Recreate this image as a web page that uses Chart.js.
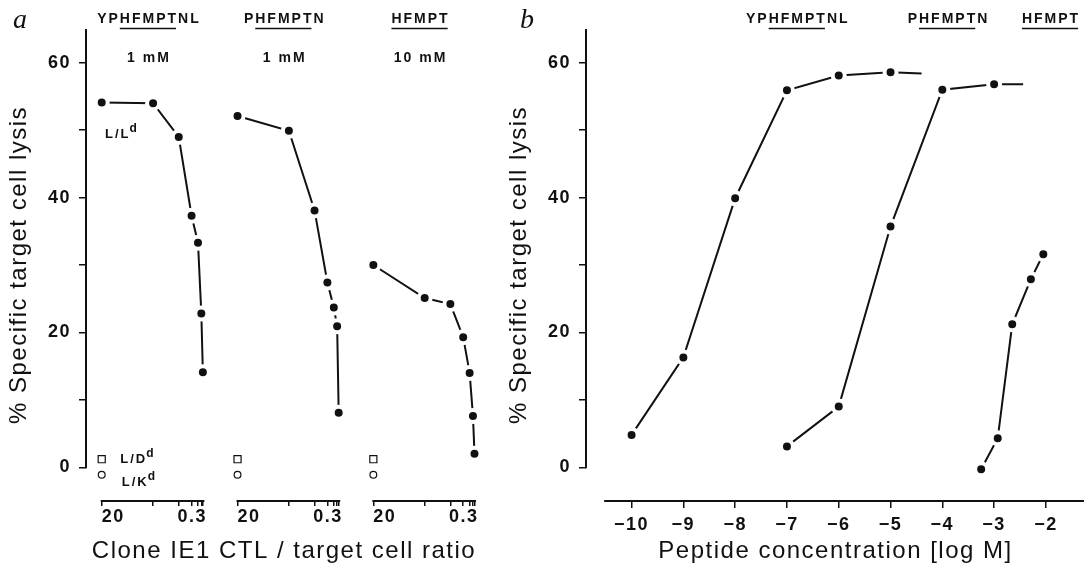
<!DOCTYPE html>
<html>
<head>
<meta charset="utf-8">
<script src="https://cdn.jsdelivr.net/npm/chart.js@4.4.1/dist/chart.umd.min.js"></script>
<style>
  html, body { margin: 0; padding: 0; background: #fff; }
  #wrap { position: relative; width: 1087px; height: 568px; overflow: hidden; }
  canvas { position: absolute; top: 0; }
  #panelA { left: 0; }
  #panelB { left: 500px; }
</style>
</head>
<body>
<div id="wrap">
  <canvas id="panelA" width="500" height="568"></canvas>
  <canvas id="panelB" width="587" height="568"></canvas>
</div>
<script>
// panel a: lysis against CTL / target ratio, one block per peptide
const ratios = [20, 10, 5, 2.5, 1.25, 0.6, 0.3]
const peptides = ['YPHFMPTNL', 'PHFMPTN', 'HFMPT']
const concentrations = ['1 mM', '1 mM', '10 mM']
const lysisYPHFMPTNL = [54.1, 54.0, 49.0, 37.3, 33.3, 22.8, 14.1]
const lysisPHFMPTN = [52.1, 49.9, 38.1, 27.4, 23.7, 20.9, 8.1]
const lysisHFMPT = [30.0, 25.1, 24.2, 19.3, 14.0, 7.6, 2.0]
const lysisLDd = [1.2, 1.2, 1.2] // open squares at ratio 20
const lysisLKd = [-1.1, -1.1, -1.1] // open circles at ratio 20

// panel b: lysis against peptide concentration (last x of the first two is the line end, no marker)
const logConcYPHFMPTNL = [-10, -9, -8, -7, -6, -5, -4.4]
const lysisConcYPHFMPTNL = [4.8, 16.3, 39.9, 55.9, 58.1, 58.6, 58.4]
const logConcPHFMPTN = [-7, -6, -5, -4, -3, -2.44]
const lysisConcPHFMPTN = [3.1, 9.0, 35.7, 56.0, 56.8, 56.8]
const logConcHFMPT = [-3.25, -2.93, -2.65, -2.29, -2.05]
const lysisConcHFMPT = [-0.3, 4.3, 21.2, 27.9, 31.6]

const logTicks = [-10, -9, -8, -7, -6, -5, -4, -3, -2]
const lysisTicks = [0, 10, 20, 30, 40, 50, 60]

const ink = '#111'
const family = "'Liberation Sans', Arial, Helvetica, sans-serif"
Chart.defaults.font.family = family
Chart.defaults.color = ink

// each peptide block of panel a sits on its own stretch of the x scale
const GROUP_SPAN = 26.45
const slot = (g, r) => g * GROUP_SPAN + (20 - r)

function drawText(ctx, text, x, y, font, align, spacing) {
  ctx.font = font
  ctx.letterSpacing = spacing + 'px'
  ctx.textBaseline = 'middle'
  ctx.textAlign = 'left'
  const w = ctx.measureText(text).width - spacing
  const left = align === 'center' ? x - w / 2 : align === 'right' ? x - w : x
  ctx.fillText(text, left, y)
  return { left, width: w }
}

function makeDecor(cfg) {
  return {
    id: 'decor',
    beforeDraw(chart) {
      chart.ctx.letterSpacing = '1.5px'
    },
    afterDraw(chart) {
      const ctx = chart.ctx
      const xs = chart.scales.x
      const ys = chart.scales.y
      const px = (v) => xs.getPixelForValue(v)
      const py = (v) => ys.getPixelForValue(v)
      ctx.save()
      ctx.strokeStyle = ink
      ctx.fillStyle = ink

      // detached axis lines
      ctx.lineWidth = 2
      ctx.beginPath()
      ctx.moveTo(ys.right, py(cfg.yFrame[0]) + 1)
      ctx.lineTo(ys.right, py(cfg.yFrame[1]))
      cfg.xFrames.forEach(([a, b]) => {
        ctx.moveTo(px(a) - 1, xs.top)
        ctx.lineTo(px(b), xs.top)
      })
      ctx.stroke()

      // end labels of the ratio axes
      if (cfg.endLabels) {
        cfg.endLabels.forEach((g) => {
          const f = 'bold 18px ' + family
          drawText(ctx, String(ratios[0]), px(slot(g, ratios[0])), 517, f, 'left', 1.5)
          drawText(ctx, String(ratios[ratios.length - 1]), px(slot(g, 0)) + 1, 517, f, 'right', 1.5)
        })
      }

      // peptide names, HFMPT core underlined
      cfg.headings.forEach((h) => {
        const f = 'bold 14px ' + family
        const cx = px(h.x)
        const t = drawText(ctx, h.text, cx, 19, f, 'center', 2)
        const i = h.text.indexOf('HFMPT')
        const u0 = t.left + (i > 0 ? ctx.measureText(h.text.slice(0, i)).width : 0)
        const u1 = t.left + ctx.measureText(h.text.slice(0, i + 5)).width - 2
        ctx.lineWidth = 1.5
        ctx.beginPath()
        ctx.moveTo(u0, 28.5)
        ctx.lineTo(u1, 28.5)
        ctx.stroke()
        if (h.conc) drawText(ctx, h.conc, cx, 58, 'bold 14px ' + family, 'center', 2)
      })

      // cell labels with superscript
      ;(cfg.notes || []).forEach((n) => {
        const t = drawText(ctx, n.main, px(n.x), py(n.y), 'bold 13px ' + family, 'left', 2)
        drawText(ctx, n.sup, t.left + t.width + 1, py(n.y) - 6, 'bold 12px ' + family, 'left', 0)
      })

      // panel letter
      ctx.letterSpacing = '0px'
      ctx.font = "italic 28px 'Liberation Serif', 'Times New Roman', serif"
      ctx.textBaseline = 'alphabetic'
      ctx.textAlign = 'left'
      ctx.fillText(cfg.letter, cfg.letterX, 28)
      ctx.restore()
    },
  }
}

function curve(label, xs, ys, hasTail) {
  const last = xs.length - 1
  return {
    label,
    showLine: true,
    data: xs.map((x, i) => ({ x, y: ys[i] })),
    borderColor: ink,
    borderWidth: 2,
    tension: 0,
    fill: false,
    clip: false,
    pointRadius: (c) => (hasTail && c.dataIndex === last ? 0 : 6),
    pointBackgroundColor: ink,
    pointBorderColor: '#fff',
    pointBorderWidth: 4,
  }
}

function controls(label, style, radius, ys) {
  return {
    label,
    showLine: false,
    data: ys.map((y, g) => ({ x: slot(g, ratios[0]), y })),
    pointStyle: style,
    pointRadius: radius,
    pointBackgroundColor: '#fff',
    pointBorderColor: ink,
    pointBorderWidth: 1.2,
    clip: false,
  }
}

function yScale() {
  return {
    type: 'linear',
    min: -5,
    max: 65,
    afterBuildTicks: (s) => { s.ticks = lysisTicks.map((v) => ({ value: v })) },
    afterFit: (s) => { s.width = 86 },
    grid: { drawOnChartArea: false, drawTicks: true, tickLength: 7, color: ink, lineWidth: 1.5 },
    border: { display: false },
    ticks: {
      padding: 8,
      color: ink,
      font: { size: 18, weight: 'bold' },
      callback: (v) => (v % 20 === 0 ? String(v) : ''),
    },
    title: {
      display: true,
      text: '% Specific target cell lysis',
      color: ink,
      font: { size: 24 },
      padding: { top: 5, bottom: 0 },
    },
  }
}

const common = {
  responsive: false,
  animation: false,
  devicePixelRatio: 1,
  events: [],
  plugins: { legend: { display: false }, tooltip: { enabled: false } },
}

// panel a
const blocks = [lysisYPHFMPTNL, lysisPHFMPTN, lysisHFMPT]
new Chart(document.getElementById('panelA'), {
  type: 'scatter',
  data: {
    datasets: [
      ...blocks.map((ys, g) => curve(peptides[g], ratios.map((r) => slot(g, r)), ys, false)),
      controls('L/Dd', 'rect', 5, lysisLDd),
      controls('L/Kd', 'circle', 3.4, lysisLKd),
    ],
  },
  options: {
    ...common,
    layout: { autoPadding: false, padding: { top: 29, right: 18, left: 0, bottom: 0 } },
    scales: {
      x: {
        type: 'linear',
        min: -3.06,
        max: 74.06,
        afterBuildTicks: (s) => {
          s.ticks = peptides.flatMap((p, g) => ratios.map((r) => ({ value: slot(g, r) })))
        },
        afterFit: (s) => { s.height = 67 },
        grid: { drawOnChartArea: false, drawTicks: true, tickLength: 5, color: ink, lineWidth: 1.5 },
        border: { display: false },
        ticks: { autoSkip: false, maxRotation: 0, callback: () => '' },
        title: {
          display: true,
          text: 'Clone IE1 CTL / target cell ratio',
          color: ink,
          font: { size: 24 },
          padding: { top: 0, bottom: 2 },
        },
      },
      y: yScale(),
    },
  },
  plugins: [makeDecor({
    letter: 'a',
    letterX: 13,
    yFrame: [0, 65],
    xFrames: peptides.map((p, g) => [slot(g, 20), slot(g, 0)]),
    endLabels: [0, 1, 2],
    headings: peptides.map((p, g) => ({ text: p, x: slot(g, 11), conc: concentrations[g] })),
    notes: [
      { main: 'L/L', sup: 'd', x: slot(0, 19.36), y: 49.3 },
      { main: 'L/D', sup: 'd', x: slot(0, 16.4), y: 1.2 },
      { main: 'L/K', sup: 'd', x: slot(0, 16.1), y: -2.3 },
    ],
  })],
})

// panel b
new Chart(document.getElementById('panelB'), {
  type: 'scatter',
  data: {
    datasets: [
      curve('YPHFMPTNL', logConcYPHFMPTNL, lysisConcYPHFMPTNL, true),
      curve('PHFMPTN', logConcPHFMPTN, lysisConcPHFMPTN, true),
      curve('HFMPT', logConcHFMPT, lysisConcHFMPT, false),
    ],
  },
  options: {
    ...common,
    layout: { autoPadding: false, padding: { top: 29, right: 2, left: 0, bottom: 0 } },
    scales: {
      x: {
        type: 'linear',
        min: -10.88,
        max: -1.245,
        afterBuildTicks: (s) => { s.ticks = logTicks.map((v) => ({ value: v })) },
        afterFit: (s) => { s.height = 67 },
        grid: { drawOnChartArea: false, drawTicks: true, tickLength: 7, color: ink, lineWidth: 1.5 },
        border: { display: false },
        ticks: {
          autoSkip: false,
          maxRotation: 0,
          padding: 6,
          color: ink,
          font: { size: 18, weight: 'bold' },
          callback: (v) => '\u2212' + Math.abs(v),
        },
        title: {
          display: true,
          text: 'Peptide concentration [log M]',
          color: ink,
          font: { size: 24 },
          padding: { top: 0, bottom: 2 },
        },
      },
      y: yScale(),
    },
  },
  plugins: [makeDecor({
    letter: 'b',
    letterX: 20,
    yFrame: [0, 65],
    xFrames: [[-10.51, -1.265]],
    headings: [
      { text: peptides[0], x: -6.81 },
      { text: peptides[1], x: -3.9 },
      { text: peptides[2], x: -1.92 },
    ],
  })],
})
</script>
</body>
</html>
